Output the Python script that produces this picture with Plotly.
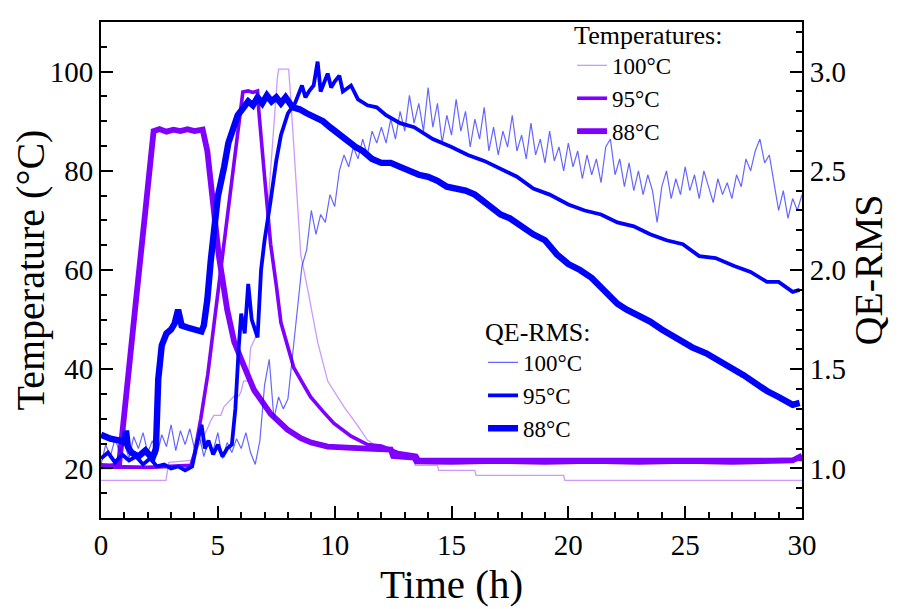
import plotly.graph_objects as go

# ---------------- data ----------------
# Temperatures (left axis, degC)
t_temp_100 = [0, 2.78, 2.9, 3.85, 4.1, 4.4, 4.6, 4.7, 4.83, 5.13, 5.26, 5.5, 5.7, 5.9, 6.0, 6.1,
              6.3, 6.4, 6.6, 6.75, 6.9, 7.1, 7.26, 7.4, 7.55, 7.6, 8.03, 8.1, 8.4, 8.55, 8.85,
              9.27, 9.7, 10.4, 11.0, 11.4, 12.0, 12.8, 13.4, 13.45, 14.4, 14.45, 16.0, 16.05,
              19.8, 19.85, 30]
temp_100 = [17.6, 17.6, 21.2, 21.6, 24, 26.5, 28.5, 29.7, 30.7, 30.7, 32.4, 33.5, 34.6, 34.6, 35.6, 37.6,
            37.6, 44.3, 46.3, 50, 60.7, 70, 80.4, 90, 98.8, 100.5, 100.5, 96, 74, 63, 56,
            45.5, 37.6, 32.4, 28.5, 25.7, 23.8, 23.2, 22.4, 20.6, 20.6, 19.6, 19.6, 18.6,
            18.6, 17.6, 17.6]

t_temp_95 = [0, 1, 2, 3, 3.85, 4.0, 4.27, 4.57, 5.0, 5.13, 5.4, 5.7, 6.07, 6.3, 6.5, 6.7, 6.75,
             6.97, 7.26, 7.5, 7.7, 8.25, 8.97, 9.5, 9.96, 10.7, 11.4, 12.0, 12.7, 13.5, 13.6,
             16, 18, 20, 22, 24, 26, 28, 30]
temp_95 = [20.2, 20.3, 20.2, 20.4, 20.6, 23, 30, 39, 55, 60.5, 70, 81, 95.9, 96.1, 95.8, 96.1, 92.3,
           80.4, 65.2, 57, 49.4, 40.3, 34.4, 31.5, 29.1, 26.5, 24.8, 24.5, 23.2, 22.6, 21.8,
           21.8, 21.8, 21.7, 21.8, 21.8, 21.7, 21.8, 21.8]

t_temp_88 = [0, 0.4, 0.77, 1.1, 1.5, 1.9, 2.25, 2.5, 2.8, 3.1, 3.4, 3.7, 4.0, 4.35, 4.55, 4.83,
             5.04, 5.4, 5.7, 6.0, 6.55, 7.26, 7.98, 8.55, 9.0, 9.7, 10.5, 11.4, 12.4, 12.5,
             13.4, 13.5, 15.0, 17.0, 19.0, 21.0, 23.0, 25.0, 27.0, 29.0, 29.6, 30.0]
temp_88 = [20.5, 20.4, 20.6, 37, 54, 72, 88, 88.4, 87.9, 88.3, 88.0, 88.4, 88.0, 88.3, 84, 72,
           63, 52, 45.5, 42, 35.8, 31, 27.8, 26.1, 25.2, 24.4, 24.1, 24.0, 23.8, 22.5,
           22.2, 21.4, 21.3, 21.5, 21.3, 21.5, 21.3, 21.5, 21.3, 21.5, 21.6, 22.6]

# QE-RMS (right axis)
t_qe_100_step = 0.2
qe_100 = [
    1.02, 1.12, 1.06, 1.15, 1.08, 1.13, 1.05, 1.16, 1.10, 1.18,   # 0 - 1.8
    1.08, 1.14, 1.07, 1.17, 1.11, 1.22, 1.09, 1.19, 1.12, 1.20,   # 2 - 3.8
    1.10, 1.17, 1.06, 1.14, 1.09, 1.18, 1.05, 1.13, 1.08, 1.15,   # 4 - 5.8
    1.10, 1.18, 1.08, 1.02, 1.14, 1.42, 1.55, 1.25, 1.36, 1.30,   # 6 - 7.8
    1.35, 1.58, 1.80, 2.02, 2.10, 2.30, 2.18, 2.28, 2.24, 2.38,   # 8 - 9.8
    2.32, 2.50, 2.58, 2.52, 2.62, 2.56, 2.66, 2.58, 2.70, 2.64,   # 10 - 11.8
    2.72, 2.64, 2.76, 2.66, 2.80, 2.70, 2.88, 2.74, 2.84, 2.70,   # 12 - 13.8
    2.92, 2.72, 2.84, 2.64, 2.78, 2.68, 2.86, 2.70, 2.80, 2.62,   # 14 - 15.8
    2.76, 2.66, 2.82, 2.60, 2.72, 2.58, 2.70, 2.62, 2.78, 2.60,   # 16 - 17.8
    2.68, 2.56, 2.74, 2.58, 2.66, 2.54, 2.70, 2.55, 2.62, 2.50,   # 18 - 19.8
    2.64, 2.52, 2.60, 2.46, 2.58, 2.48, 2.56, 2.44, 2.62, 2.66,   # 20 - 21.8
    2.48, 2.56, 2.42, 2.54, 2.40, 2.50, 2.38, 2.48, 2.40, 2.24,   # 22 - 23.8
    2.42, 2.50, 2.36, 2.46, 2.38, 2.52, 2.40, 2.48, 2.36, 2.50,   # 24 - 25.8
    2.42, 2.34, 2.46, 2.38, 2.44, 2.36, 2.48, 2.42, 2.56, 2.50,   # 26 - 27.8
    2.60, 2.66, 2.54, 2.58, 2.44, 2.30, 2.40, 2.26, 2.36, 2.30,   # 28 - 29.8
    2.38,                                                         # 30
]
t_qe_100 = [round(i * t_qe_100_step, 1) for i in range(len(qe_100))]

t_qe_95 = [0, 0.3, 0.6, 0.9, 1.2, 1.5, 1.8, 2.1, 2.4, 2.7, 3.0, 3.3, 3.6, 3.9, 4.1, 4.3, 4.45,
           4.6, 4.8, 5.0, 5.2, 5.4, 5.6, 5.75, 5.9, 6.0, 6.15, 6.3, 6.45, 6.7, 6.85, 7.0, 7.26,
           7.5, 7.7, 8.0, 8.3, 8.6, 8.75, 8.9, 9.1, 9.27, 9.4, 9.6, 9.7, 9.85, 10.0, 10.2,
           10.35, 10.7, 11.0, 11.4, 11.8, 12.2, 12.8, 13.4, 14.2, 15.0, 15.7, 16.4, 17.1, 17.8,
           18.5, 19.2, 20.0, 20.7, 21.4, 22.1, 22.8, 23.5, 24.2, 24.9, 25.6, 26.3, 27.1, 27.8,
           28.5, 29.0, 29.6, 29.9]
qe_95 = [1.05, 1.08, 1.03, 1.07, 1.04, 1.06, 1.02, 1.05, 1.01, 1.02, 1.00, 1.01, 0.99, 1.01, 1.12,
         1.22, 1.10, 1.14, 1.07, 1.12, 1.06, 1.10, 1.12, 1.30, 1.62, 1.78, 1.68, 1.93, 1.75, 1.66,
         2.00, 2.15, 2.35, 2.55, 2.68, 2.79, 2.84, 2.93, 2.87, 2.90, 2.93, 3.05, 2.90, 2.96, 2.99,
         2.92, 2.95, 2.98, 2.90, 2.93, 2.86, 2.83, 2.82, 2.78, 2.74, 2.72, 2.66, 2.62, 2.58, 2.55,
         2.51, 2.47, 2.41, 2.38, 2.33, 2.30, 2.28, 2.24, 2.22, 2.18, 2.15, 2.13, 2.07, 2.06, 2.02,
         1.99, 1.94, 1.94, 1.89, 1.90]

t_qe_88 = [0, 0.4, 0.8, 1.0, 1.07, 1.15, 1.3, 1.6, 1.9, 2.2, 2.35, 2.45, 2.6, 2.8, 3.0, 3.15,
           3.3, 3.45, 3.7, 4.0, 4.3, 4.4, 4.55, 4.7, 5.0, 5.27, 5.45, 5.85, 6.1, 6.3, 6.5, 6.7,
           6.9, 7.1, 7.3, 7.5, 7.7, 7.9, 8.2, 8.5, 8.8, 9.1, 9.5, 9.8, 10.2, 10.5, 10.9, 11.2,
           11.6, 12.0, 12.4, 12.8, 13.2, 13.6, 14.0, 14.4, 14.8, 15.2, 15.6, 16.0, 16.5, 17.1,
           17.5, 18.0, 18.5, 19.0, 19.5, 20.0, 20.5, 21.0, 21.5, 22.1, 22.5, 23.0, 23.5, 24.0,
           24.6, 25.3, 25.9, 26.5, 27.0, 27.5, 28.0, 28.5, 29.0, 29.6, 29.9]
qe_88 = [1.17, 1.15, 1.14, 1.13, 1.19, 1.11, 1.08, 1.06, 1.09, 1.05, 1.10, 1.45, 1.62, 1.68, 1.70,
         1.73, 1.80, 1.72, 1.71, 1.70, 1.69, 1.72, 1.85, 2.05, 2.37, 2.52, 2.64, 2.78, 2.82, 2.85,
         2.83, 2.87, 2.84, 2.88, 2.85, 2.87, 2.84, 2.87, 2.82, 2.81, 2.79, 2.77, 2.75, 2.72, 2.68,
         2.65, 2.62, 2.60, 2.56, 2.54, 2.54, 2.52, 2.50, 2.48, 2.47, 2.45, 2.42, 2.41, 2.40, 2.38,
         2.33, 2.28, 2.26, 2.22, 2.18, 2.15, 2.08, 2.03, 2.00, 1.96, 1.90, 1.83, 1.80, 1.77, 1.74,
         1.70, 1.66, 1.61, 1.58, 1.54, 1.51, 1.47, 1.43, 1.39, 1.36, 1.32, 1.33]

series_labels = ['100°C', '95°C', '88°C']

# ---------------- styling ----------------
PURPLE = '#7F00FF'
PURPLE_LIGHT = 'rgba(127,0,255,0.40)'
BLUE = '#0000FF'
BLUE_LIGHT = 'rgba(0,0,255,0.60)'
FONT = 'Liberation Serif, DejaVu Serif, serif'

fig = go.Figure()

temp_sets = [(t_temp_100, temp_100, PURPLE_LIGHT, 1.3),
             (t_temp_95, temp_95, PURPLE, 3.6),
             (t_temp_88, temp_88, PURPLE, 5.8)]
for lab, (tx, ty, col, w) in zip(series_labels, temp_sets):
    fig.add_trace(go.Scatter(x=tx, y=ty, mode='lines', name=lab,
                             line=dict(color=col, width=w), legend='legend'))

qe_sets = [(t_qe_100, qe_100, BLUE_LIGHT, 1.2),
           (t_qe_95, qe_95, BLUE, 3.8),
           (t_qe_88, qe_88, BLUE, 6.4)]
for lab, (tx, ty, col, w) in zip(series_labels, qe_sets):
    fig.add_trace(go.Scatter(x=tx, y=ty, mode='lines', name=lab, yaxis='y2',
                             line=dict(color=col, width=w), legend='legend2'))

tick_common = dict(tickcolor='black', tickwidth=2, showgrid=False, zeroline=False,
                   showline=True, linecolor='black', linewidth=2, automargin=False,
                   ticks='inside', ticklen=12,
                   tickfont=dict(family=FONT, size=29, color='black'))
minor_common = dict(ticks='inside', ticklen=6, tickwidth=1.5, tickcolor='black')

# the page body has an 8 px margin, so the figure is sized/margined to compensate
fig.update_layout(
    width=909, height=601,
    margin=dict(l=93, r=115, t=2, b=91),
    paper_bgcolor='white', plot_bgcolor='white',
    font=dict(family=FONT, size=23, color='black'),
    showlegend=True,
    xaxis=dict(range=[0, 30], tick0=0, dtick=5, mirror=True,
               minor=dict(dtick=1, **minor_common),
               title=dict(text='Time (h)', font=dict(family=FONT, size=41), standoff=2),
               **tick_common),
    yaxis=dict(range=[10, 110], tick0=0, dtick=20,
               minor=dict(dtick=5, **minor_common),
               title=dict(text='Temperature (°C)', font=dict(family=FONT, size=40), standoff=12),
               **tick_common),
    yaxis2=dict(range=[0.75, 3.25], tick0=0, dtick=0.5,
                overlaying='y', side='right', tickformat='.1f',
                minor=dict(dtick=0.1, **minor_common),
                title=dict(text='QE-RMS', font=dict(family=FONT, size=40), standoff=8),
                **tick_common),
    legend=dict(x=0.672, y=1.024, xanchor='left', yanchor='top', bgcolor='rgba(0,0,0,0)',
                font=dict(family=FONT, size=23),
                title=dict(text='Temperatures:', font=dict(family=FONT, size=26)),
                tracegroupgap=0, traceorder='normal'),
    legend2=dict(x=0.545, y=0.425, xanchor='left', yanchor='top', bgcolor='rgba(0,0,0,0)',
                 font=dict(family=FONT, size=23),
                 title=dict(text='QE-RMS:', font=dict(family=FONT, size=26)),
                 tracegroupgap=0, traceorder='normal'),
)

fig.write_html('out.html')
